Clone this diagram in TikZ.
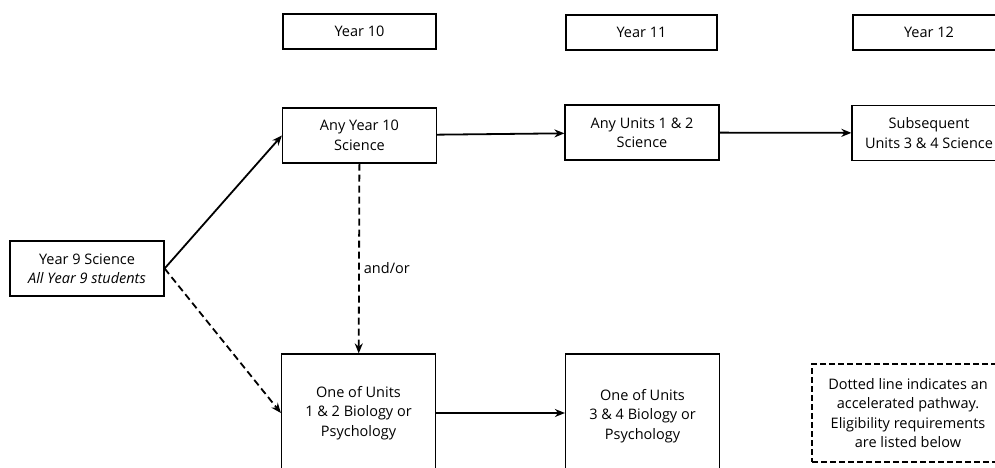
\documentclass[tikz,border=0pt]{standalone}
\usepackage{fontspec}
\setmainfont{Open Sans}
\usetikzlibrary{arrows.meta}
\begin{document}
\begin{tikzpicture}[x=1pt,y=-1pt,font=\fontsize{14.5}{19.5}\selectfont]
\tikzstyle{every node}=[align=center, inner sep=0pt]
\tikzstyle{yearbox}=[draw, line width=2.8pt, minimum height=35]
\tikzstyle{unitbox}=[draw, line width=1.2pt, minimum width=154, minimum height=55]
\tikzstyle{flow}=[line width=1.8pt, -{Stealth[length=10pt,width=8pt]}]
\tikzstyle{fast}=[flow, dash pattern=on 7pt off 4pt]

\path[use as bounding box, clip] (0,0) rectangle (995,468);

\node[yearbox, minimum width=153] (yr10) at (359.5, 31.5) {Year 10};
\node[yearbox, minimum width=151] (yr11) at (641.5, 32.5) {Year 11};
\node[yearbox, minimum width=152] (yr12) at (929,   32.5) {Year 12};

\node[unitbox] (y9)    at ( 87,   268.5) {Year 9 Science\\ \textit{All Year 9 students}};
\node[unitbox] (sci10) at (359.5, 135.5) {Any Year 10\\ Science};
\node[unitbox] (u12)   at (642,   132.5) {Any Units 1 \& 2\\ Science};
\node[unitbox] (u34)   at (929,   133)   {Subsequent\\ Units 3 \& 4 Science};
\node[unitbox, minimum height=118] (bio12) at (358.5, 413) {One of Units\\ 1 \& 2 Biology or\\ Psychology};
\node[unitbox, minimum height=124] (bio34) at (642.5, 416) {One of Units\\ 3 \& 4 Biology or\\ Psychology};
\node[draw, line width=1.2pt, dash pattern=on 6pt off 3pt, minimum width=192, minimum height=98]
  (note) at (908, 413) {Dotted line indicates an\\ accelerated pathway.\\ Eligibility requirements\\ are listed below};

\draw[flow] (y9.east) -- (sci10.west);
\draw[fast] (y9.east) -- (bio12.west);
\draw[fast] (sci10) -- (bio12) node[right, pos=0.55, xshift=4pt] {and/or};
\draw[flow] (sci10) -- (u12);
\draw[flow] (u12) -- (u34);
\draw[flow] (bio12.east) -- (bio12.east -| bio34.west);
\end{tikzpicture}
\end{document}
